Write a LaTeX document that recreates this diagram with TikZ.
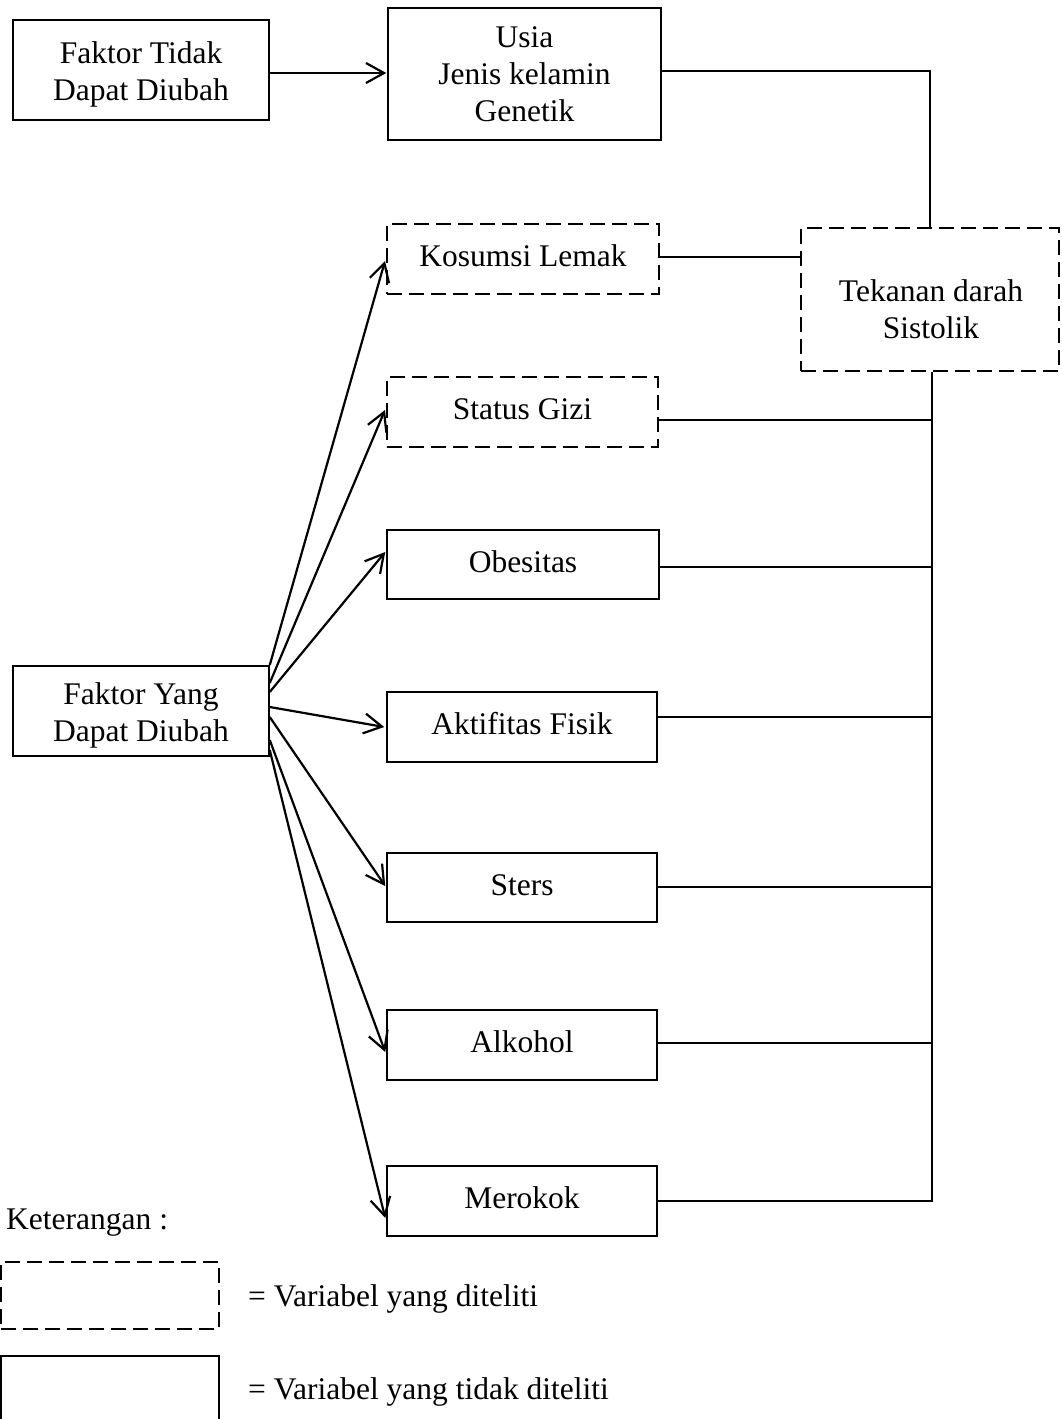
\documentclass[tikz,border=0pt]{standalone}
\usepackage{fontspec}
\setmainfont{Liberation Serif}
\usetikzlibrary{arrows.meta,calc}
\begin{document}
\begin{tikzpicture}[x=1pt,y=-1pt,
  every node/.style={font=\fontsize{31.5}{37}\selectfont, inner sep=0pt, align=center},
  sbox/.style={draw, line width=1.5pt},
  dbox/.style={draw, line width=2pt, dash pattern=on 15pt off 7pt},
  one/.style={text height=25pt, text depth=10pt},
  arr/.style={line width=2.2pt, -{Straight Barb[length=18pt,width=20pt,line width=2.2pt]}},
  conn/.style={line width=1.2pt}]
\useasboundingbox (0,0) rectangle (1061,1419);
% nodes
\node[sbox, minimum width=256pt, minimum height=100pt] (ftd) at (141,70) {};
\node (ftdt) at (141,74) {Faktor Tidak\\Dapat Diubah};
\node[sbox, minimum width=273pt, minimum height=132pt] (usia) at (524.5,74) {Usia\\Jenis kelamin\\Genetik};
\node[dbox, one, minimum width=272pt, minimum height=70pt] (kos) at (523,259) {Kosumsi Lemak};
\node[dbox, one, minimum width=271pt, minimum height=70pt] (gizi) at (522.5,412) {Status Gizi};
\node[sbox, one, minimum width=272pt, minimum height=69pt] (obes) at (523,564.5) {Obesitas};
\node[sbox, one, minimum width=270pt, minimum height=70pt] (akt) at (522,727) {Aktifitas Fisik};
\node[sbox, one, minimum width=270pt, minimum height=69pt] (sters) at (522,887.5) {Sters};
\node[sbox, one, minimum width=270pt, minimum height=70pt] (alk) at (522,1045) {Alkohol};
\node[sbox, one, minimum width=270pt, minimum height=70pt] (mer) at (522,1201) {Merokok};
\node[sbox, minimum width=256pt, minimum height=90pt] (fyd) at (141,711) {};
\node (fydt) at (141,715) {Faktor Yang\\Dapat Diubah};
\node[dbox, minimum width=258pt, minimum height=143pt] (tek) at (930,299.5) {};
\node (tekt) at (931,309) {Tekanan darah\\Sistolik};
% legend
\node[anchor=west] (ket) at (6,1223) {Keterangan :};
\node[dbox, minimum width=218pt, minimum height=67pt] (lgd) at (110,1295.5) {};
\node[sbox, minimum width=218pt, minimum height=80pt] (lgs) at (110,1396) {};
\node[anchor=west] (lgdt) at (248,1299) {= Variabel yang diteliti};
\node[anchor=west] (lgst) at (248,1392) {= Variabel yang tidak diteliti};
% arrows
\draw[arr] ([yshift=-3pt]ftd.east) -- ([xshift=-1pt,yshift=1pt]usia.west);
\draw[arr] ([yshift=46pt]fyd.east) -- ([xshift=-1pt,yshift=-2pt]kos.west);
\draw[arr] ([yshift=28pt]fyd.east) -- ([xshift=-1pt,yshift=2pt]gizi.west);
\draw[arr] ([yshift=19pt]fyd.east) -- ([xshift=-1pt,yshift=12.5pt]obes.west);
\draw[arr] ([yshift=4pt]fyd.east) -- ([xshift=-2pt]akt.west);
\draw[arr] ([yshift=-6pt]fyd.east) -- ([xshift=-1pt,yshift=1.5pt]sters.west);
\draw[arr] ([yshift=-29pt]fyd.east) -- ([xshift=-1pt,yshift=-7pt]alk.west);
\draw[arr] ([yshift=-39pt]fyd.east) -- ([xshift=-1pt,yshift=-17pt]mer.west);
% connectors
\draw[conn] ([yshift=3pt]usia.east) -| (tek.north);
\coordinate (k1) at ([yshift=2pt]kos.east);
\draw[conn] (k1) -- (k1 -| tek.west);
\coordinate (bus) at ([xshift=2pt]tek.south);
\draw[conn] (bus) |- (mer.east);
\coordinate (g1) at ([yshift=-8pt]gizi.east);
\draw[conn] (g1) -- (g1 -| bus);
\coordinate (o1) at ([yshift=-2.5pt]obes.east);
\draw[conn] (o1) -- (o1 -| bus);
\coordinate (a1) at ([yshift=10pt]akt.east);
\draw[conn] (a1) -- (a1 -| bus);
\coordinate (s1) at ([yshift=0.5pt]sters.east);
\draw[conn] (s1) -- (s1 -| bus);
\coordinate (l1) at ([yshift=2pt]alk.east);
\draw[conn] (l1) -- (l1 -| bus);
\end{tikzpicture}
\end{document}
